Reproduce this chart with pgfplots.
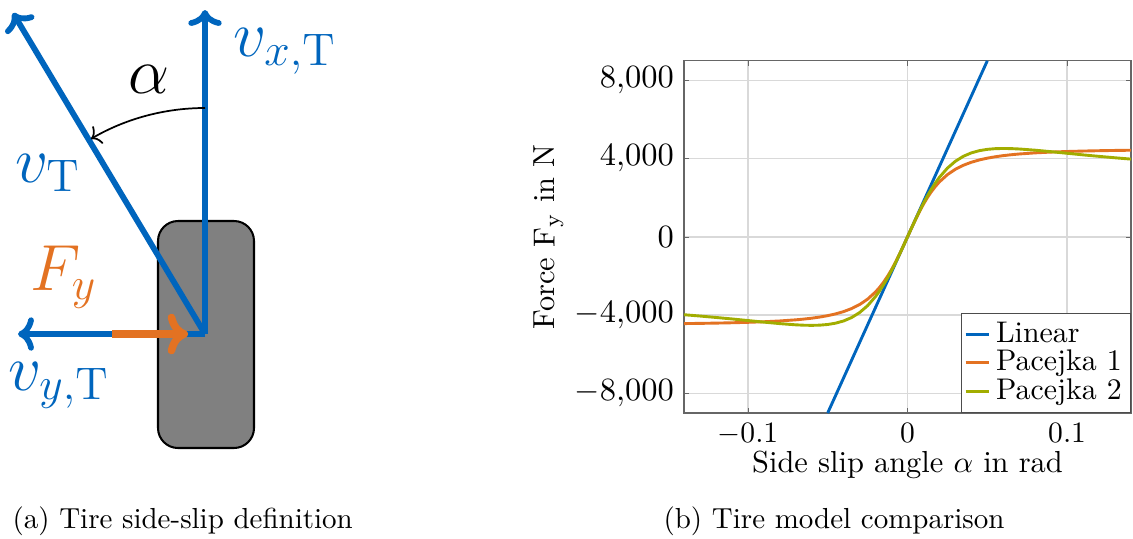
\RequirePackage{fix-cm}
\documentclass[border=0pt]{standalone}
\usepackage{pgfplots}
\pgfplotsset{compat=1.18}
\usetikzlibrary{arrows.meta}
\definecolor{tumblue}{RGB}{0,101,189}
\definecolor{tumorange}{RGB}{227,114,34}
\definecolor{tumgreen}{RGB}{162,173,0}

\pgfplotstableread{
a F
-0.05 -9000
0.05 9000
}\linear

\pgfplotstableread{
a F
-0.14 -4429.9
-0.13 -4419.0
-0.12 -4405.4
-0.11 -4388.1
-0.10 -4365.6
-0.09 -4335.8
-0.08 -4295.2
-0.07 -4237.8
-0.065 -4200.0
-0.06 -4153.8
-0.055 -4096.7
-0.05 -4024.9
-0.045 -3933.7
-0.04 -3816.0
-0.035 -3661.8
-0.03 -3457.0
-0.025 -3182.0
-0.02 -2811.2
-0.0175 -2580.6
-0.015 -2315.3
-0.0125 -2012.5
-0.01 -1671.3
-0.0075 -1293.1
-0.005 -882.5
-0.0025 -447.8
0 0
0.0025 447.8
0.005 882.5
0.0075 1293.1
0.01 1671.3
0.0125 2012.5
0.015 2315.3
0.0175 2580.6
0.02 2811.2
0.025 3182.0
0.03 3457.0
0.035 3661.8
0.04 3816.0
0.045 3933.7
0.05 4024.9
0.055 4096.7
0.06 4153.8
0.065 4200.0
0.07 4237.8
0.08 4295.2
0.09 4335.8
0.10 4365.6
0.11 4388.1
0.12 4405.4
0.13 4419.0
0.14 4429.9
}\pacA

\pgfplotstableread{
a F
-0.14 -3976.4
-0.13 -4043.9
-0.12 -4116.5
-0.11 -4192.5
-0.10 -4274.0
-0.09 -4355.1
-0.08 -4431.6
-0.07 -4493.1
-0.065 -4512.7
-0.06 -4520.0
-0.055 -4510.0
-0.05 -4475.6
-0.045 -4407.7
-0.04 -4294.3
-0.035 -4120.0
-0.03 -3866.9
-0.025 -3514.9
-0.02 -3045.4
-0.0175 -2762.4
-0.015 -2446.5
-0.0125 -2098.4
-0.01 -1720.4
-0.0075 -1315.9
-0.005 -889.9
-0.0025 -448.9
0 0
0.0025 448.9
0.005 889.9
0.0075 1315.9
0.01 1720.4
0.0125 2098.4
0.015 2446.5
0.0175 2762.4
0.02 3045.4
0.025 3514.9
0.03 3866.9
0.035 4120.0
0.04 4294.3
0.045 4407.7
0.05 4475.6
0.055 4510.0
0.06 4520.0
0.065 4512.7
0.07 4493.1
0.08 4431.6
0.09 4355.1
0.10 4274.0
0.11 4192.5
0.12 4116.5
0.13 4043.9
0.14 3976.4
}\pacB

\begin{document}
\begin{tikzpicture}
\useasboundingbox (0,0) rectangle (390.885pt,185.61pt);
\begin{scope}[x=0.345pt,y=0.345pt]
  % tire
  \filldraw[fill=black!50, draw=black, line width=0.7pt, rounded corners=6.9pt] (158,90) rectangle (254,317);
  % velocity vectors
  \draw[tumblue, line width=2pt, -{To[length=5.5pt,width=11.5pt]}] (205,204) -- (13,525);
  \draw[tumblue, line width=2pt, -{To[length=5.5pt,width=11.5pt]}] (205,204) -- (205,528);
  \draw[tumblue, line width=2pt, -{To[length=5.5pt,width=11.5pt]}] (205,204) -- (18,204);
  % force
  \draw[tumorange, line width=2.6pt, -{To[length=7pt,width=14pt]}] (112,204) -- (188,204);
  % angle arc
  \draw[black, line width=0.6pt, -{To[length=3pt,width=7pt]}] (205,430) arc[start angle=90, end angle=120.3, radius=77.97pt];
  % labels
  \begin{scope}[every node/.style={anchor=base west, inner sep=0pt, font=\fontsize{22.5}{27}\selectfont}]
    \node[text=tumblue] at (233,482) {$v_{x,\mathrm{T}}$};
    \node[text=tumblue] at (15,356) {$v_{\mathrm{T}}$};
    \node[text=tumorange] at (30,248) {$F_y$};
    \node[text=tumblue] at (8,148) {$v_{y,\mathrm{T}}$};
    \node[text=black] at (128,445) {$\alpha$};
  \end{scope}
  % captions
  \node[anchor=base west, inner sep=0pt, font=\fontsize{10}{12}\selectfont] at (12,10) {(a) Tire side-slip definition};
  \node[anchor=base west, inner sep=0pt, font=\fontsize{10}{12}\selectfont] at (663,10) {(b) Tire model comparison};
\end{scope}

\begin{axis}[
  at={(235.98pt,43.125pt)}, anchor=south west,
  scale only axis, width=154.2pt, height=121.5pt,
  xmin=-0.14, xmax=0.14, ymin=-9000, ymax=9000,
  xtick={-0.1,0,0.1}, ytick={-8000,-4000,0,4000,8000},
  scaled ticks=false,
  grid=major, major grid style={black!15, line width=0.5pt},
  axis line style={black!60},
  tick style={black!60}, tick align=inside, major tick length=1.8pt, tick pos=both,
  xticklabel style={font=\fontsize{10.2}{12}\selectfont},
  yticklabel style={font=\fontsize{11.2}{13}\selectfont},
  label style={font=\fontsize{10.5}{12}\selectfont},
  xlabel={Side slip angle $\alpha$ in rad},
  ylabel={Force $\mathrm{F_y}$ in N},
  xlabel style={at={(axis description cs:0.5,-0.146)}, anchor=center},
  ylabel style={at={(axis description cs:-0.303,0.5)}, anchor=center},
  legend style={at={(rel axis cs:1,0)}, anchor=south east, draw=black!70, fill=white,
    font=\fontsize{10.3}{12}\selectfont, inner sep=1pt, row sep=-2.8pt},
  legend cell align=left,
  legend image code/.code={\draw[#1] (0cm,0cm) -- (0.28cm,0cm);},
]
\addplot[tumblue, line width=1pt] table[x=a,y=F] {\linear};
\addlegendentry{Linear}
\addplot[tumorange, line width=1pt] table[x=a,y=F] {\pacA};
\addlegendentry{Pacejka 1}
\addplot[tumgreen, line width=1pt] table[x=a,y=F] {\pacB};
\addlegendentry{Pacejka 2}
\end{axis}
\end{tikzpicture}
\end{document}
